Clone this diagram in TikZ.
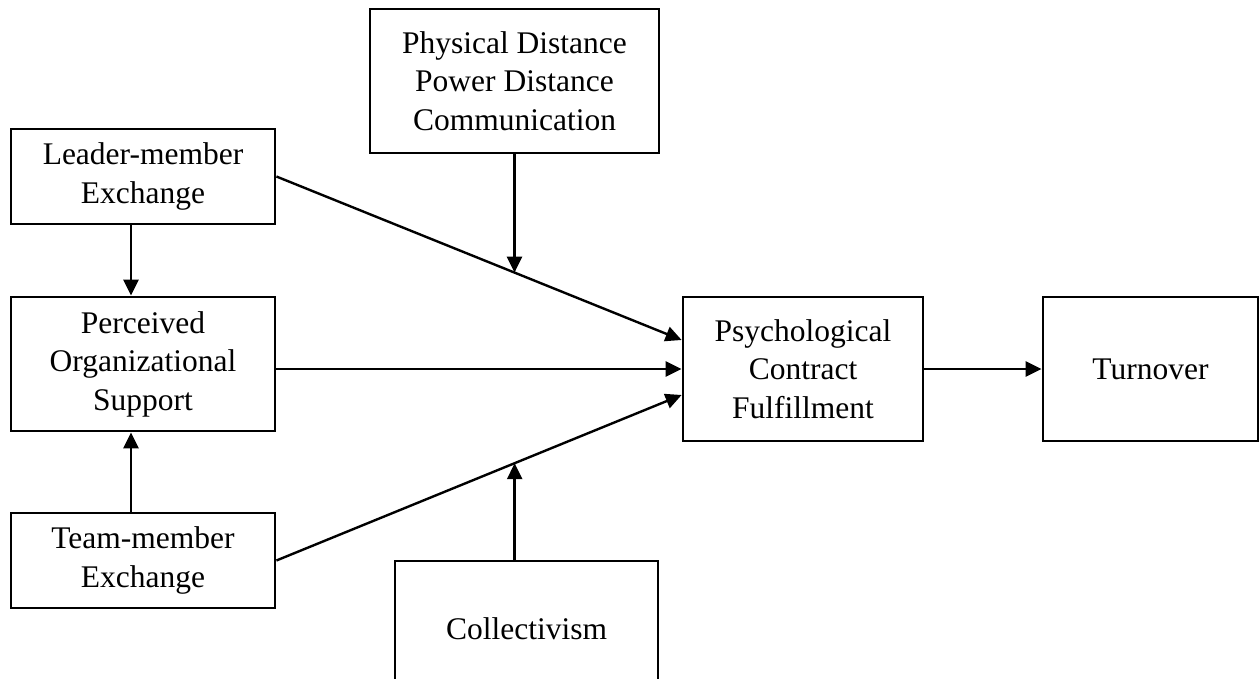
\documentclass[tikz,border=0pt]{standalone}
\usepackage{fontspec}
\setmainfont{Liberation Serif}
\usepackage{tikz}
\usetikzlibrary{arrows.meta}
\usetikzlibrary{calc}
\tikzstyle{Arrow}=[line width=2.4pt,-{Triangle[length=16pt,width=15pt]}]
\tikzstyle{Box}=[draw,line width=2.8pt,align=center,inner sep=0pt,font=\fontsize{31.5}{38.5}\selectfont]

\begin{document}
\begin{tikzpicture}[x=1pt,y=-1pt]

\useasboundingbox (0,0) rectangle (1260,679);
\clip (0,0) rectangle (1260,679);

\node[Box,minimum width=289pt,minimum height=144pt] (phys) at (514.5,81) {Physical Distance\\Power Distance\\Communication};
\node[Box,minimum width=264pt,minimum height=95pt] (lmx) at (143,176.5) {Leader-member\\Exchange};
\node[Box,minimum width=264pt,minimum height=134pt] (pos) at (143,364) {Perceived\\Organizational\\Support};
\node[Box,minimum width=264pt,minimum height=95pt] (tmx) at (143,560.5) {Team-member\\Exchange};
\node[Box,minimum width=263pt,minimum height=136pt] (coll) at (526.5,629) {Collectivism};
\node[Box,minimum width=240pt,minimum height=144pt] (pcf) at (803,369) {Psychological\\Contract\\Fulfillment};
\node[Box,minimum width=215pt,minimum height=144pt] (turn) at (1150.5,369) {Turnover};

\coordinate (pcfA) at ([yshift=29pt]pcf.west);
\coordinate (pcfC) at ([yshift=-26pt]pcf.west);
\coordinate (mA) at ($(lmx.east)!0.588!(pcfA)$);
\coordinate (mC) at ($(tmx.east)!0.588!(pcfC)$);

\draw[Arrow] (lmx.east) -- (pcfA);
\draw[Arrow] (pcf.west -| pos.east) -- (pcf.west);
\draw[Arrow] (tmx.east) -- (pcfC);
\draw[Arrow] ([xshift=-12pt]lmx.south) -- ([xshift=-12pt]pos.north);
\draw[Arrow] ([xshift=-12pt]tmx.north) -- ([xshift=-12pt]pos.south);
\draw[Arrow] (phys.south) -- (phys.south |- mA);
\draw[Arrow] (coll.north -| mC) -- (mC);
\draw[Arrow] (pcf.east) -- (turn.west);

\end{tikzpicture}
\end{document}
